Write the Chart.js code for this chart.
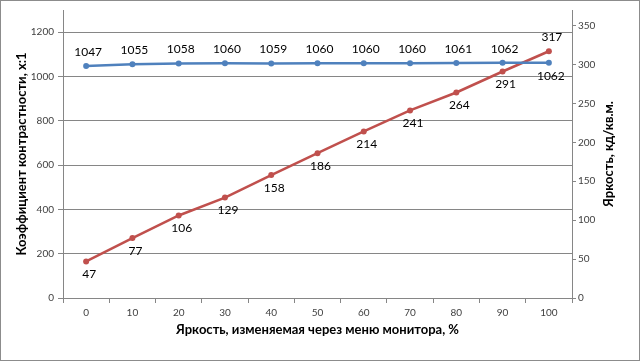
<!DOCTYPE html>
<html>
<head>
<meta charset="utf-8">
<script src="https://cdn.jsdelivr.net/npm/chart.js@4.4.0/dist/chart.umd.min.js"></script>
<style>
  html, body { margin: 0; padding: 0; background: #fff; }
  canvas { display: block; }
</style>
</head>
<body>
<canvas id="chart" width="640" height="361"></canvas>
<script>
// Chart data
const brightnessSteps = ['0', '10', '20', '30', '40', '50', '60', '70', '80', '90', '100'];
const contrastValues = [1047, 1055, 1058, 1060, 1059, 1060, 1060, 1060, 1061, 1062, 1062];
const luminanceValues = [47, 77, 106, 129, 158, 186, 214, 241, 264, 291, 317];

const BLUE = '#4F81BD';
const RED = '#C0504D';
const AXIS_GRAY = '#868686';
const FONT = 'Lato, "Open Sans", sans-serif';

// Data labels: blue above the points, red below (last ones swapped)
const labelPlugin = {
    id: 'pointLabels',
    afterDatasetsDraw(chart) {
        const ctx = chart.ctx;
        ctx.save();
        ctx.font = '12px ' + FONT;
        ctx.fillStyle = '#000';
        ctx.textAlign = 'center';
        ctx.textBaseline = 'middle';
        chart.data.datasets.forEach((ds, di) => {
            const meta = chart.getDatasetMeta(di);
            const last = ds.data.length - 1;
            meta.data.forEach((pt, i) => {
                let above = di === 0;
                if (i === last) above = !above;
                const dy = above ? -14 : 13;
                ctx.fillText(String(ds.data[i]), pt.x + (di === 0 ? 2 : 3), pt.y + dy);
            });
        });
        ctx.restore();
    }
};

// Right axis title reads bottom-to-top, plus outer frame
const decorPlugin = {
    id: 'decor',
    afterDraw(chart) {
        const ctx = chart.ctx;
        const area = chart.chartArea;
        ctx.save();
        ctx.font = 'bold 13px ' + FONT;
        ctx.fillStyle = '#000';
        ctx.textAlign = 'center';
        ctx.textBaseline = 'middle';
        ctx.translate(609, (area.top + area.bottom) / 2);
        ctx.rotate(-Math.PI / 2);
        ctx.fillText('Яркость, кд/кв.м.', 0, 0);
        ctx.restore();

        ctx.save();
        ctx.strokeStyle = '#8c8c8c';
        ctx.lineWidth = 1;
        ctx.strokeRect(0.5, 0.5, chart.width - 1, chart.height - 1);
        ctx.restore();
    }
};

const plainTick = v => String(v);

new Chart(document.getElementById('chart').getContext('2d'), {
    type: 'line',
    data: {
        labels: brightnessSteps,
        datasets: [{
            label: 'Коэффициент контрастности',
            data: contrastValues,
            yAxisID: 'y',
            borderColor: BLUE,
            backgroundColor: BLUE,
            borderWidth: 2.5,
            pointRadius: 3,
            pointBorderWidth: 0,
            tension: 0
        }, {
            label: 'Яркость',
            data: luminanceValues,
            yAxisID: 'y2',
            borderColor: RED,
            backgroundColor: RED,
            borderWidth: 2.5,
            pointRadius: 3,
            pointBorderWidth: 0,
            tension: 0
        }]
    },
    options: {
        responsive: false,
        devicePixelRatio: 1,
        animation: false,
        layout: { padding: { top: 7 } },
        plugins: {
            legend: { display: false },
            tooltip: { enabled: false }
        },
        scales: {
            x: {
                offset: true,
                afterFit: s => { s.height = 63; },
                grid: { offset: true, drawOnChartArea: false, tickLength: 5, color: AXIS_GRAY },
                border: { color: AXIS_GRAY },
                ticks: { color: '#404040', font: { size: 10, family: FONT }, padding: 4, maxRotation: 0 },
                title: {
                    display: true,
                    text: 'Яркость, изменяемая через меню монитора, %',
                    color: '#000',
                    font: { size: 13, weight: 'bold', family: FONT },
                    padding: { top: 0, bottom: 23 }
                }
            },
            y: {
                position: 'left',
                min: 0,
                max: 1300,
                afterFit: s => { s.width = 63; },
                grid: { color: AXIS_GRAY, tickLength: 5 },
                border: { color: AXIS_GRAY },
                ticks: { stepSize: 200, includeBounds: false, callback: plainTick, color: '#404040', font: { size: 10, family: FONT }, padding: 4 },
                title: {
                    display: true,
                    text: 'Коэффициент контрастности, x:1',
                    color: '#000',
                    font: { size: 13, weight: 'bold', family: FONT },
                    padding: { top: 14, bottom: 0 }
                }
            },
            y2: {
                position: 'right',
                min: 0,
                max: 370,
                afterFit: s => { s.width = 68; },
                grid: { drawOnChartArea: false, color: AXIS_GRAY, tickLength: 4 },
                border: { color: AXIS_GRAY },
                ticks: { stepSize: 50, includeBounds: false, callback: plainTick, color: '#404040', font: { size: 10, family: FONT }, padding: 2 }
            }
        }
    },
    plugins: [labelPlugin, decorPlugin]
});
</script>
</body>
</html>
